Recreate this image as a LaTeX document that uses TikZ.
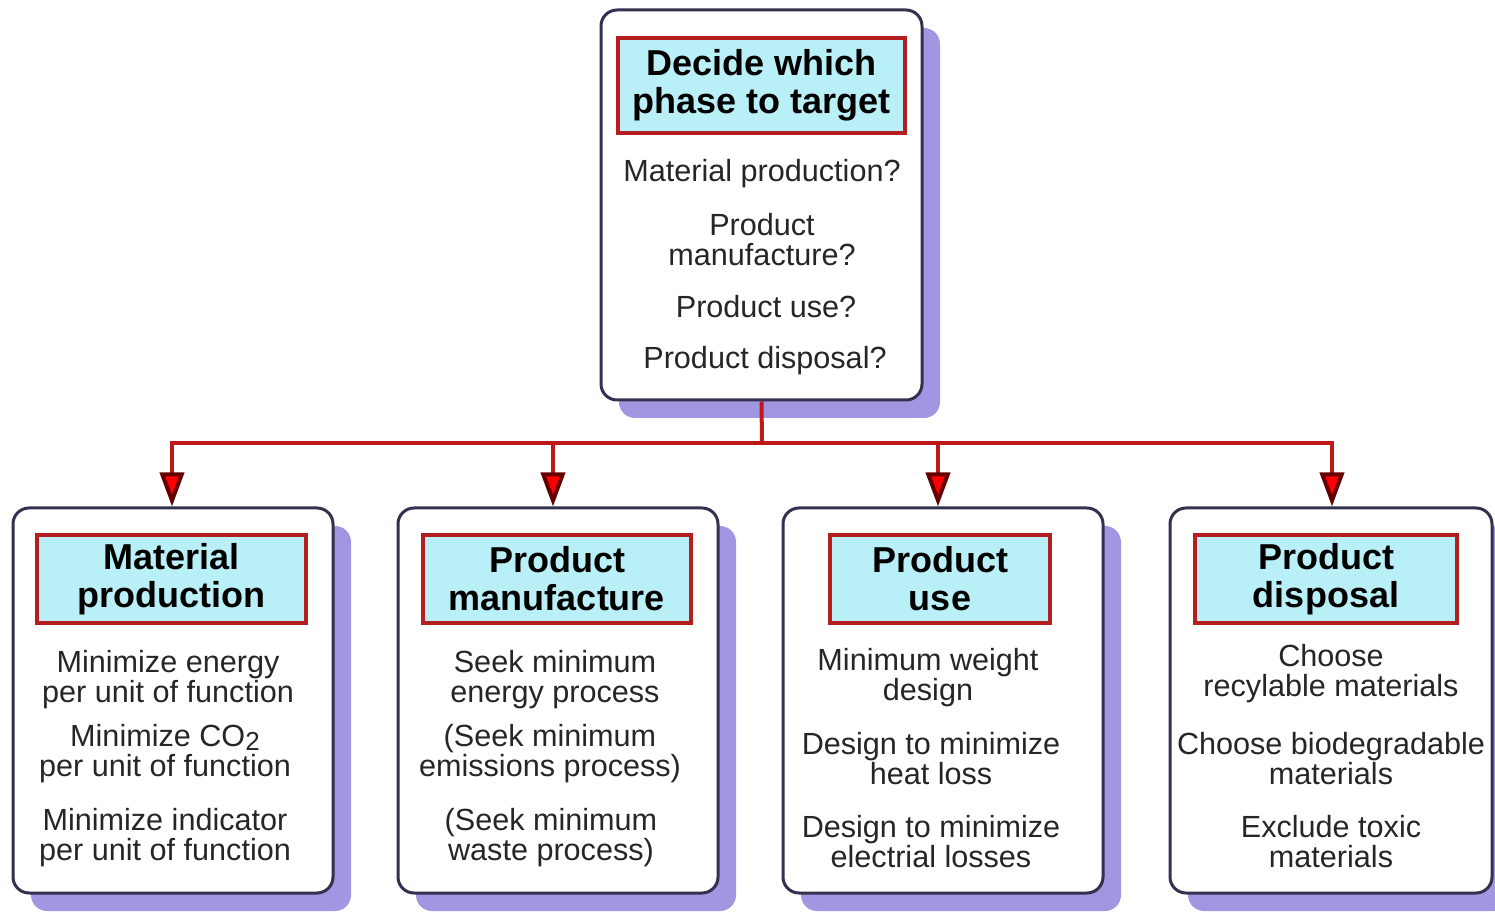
\documentclass[tikz,border=0pt]{standalone}
\usepackage{fontspec}
\setmainfont{Liberation Sans}
\usetikzlibrary{arrows.meta,shadows}
\definecolor{shade}{RGB}{160,150,225}
\definecolor{titlefill}{RGB}{185,240,248}
\definecolor{titleedge}{RGB}{180,30,30}
\definecolor{boxedge}{RGB}{50,50,80}
\definecolor{linkc}{RGB}{190,25,25}
\begin{document}
\begin{tikzpicture}[x=0.5pt,y=-0.5pt,
  outer/.style={draw=boxedge,line width=1.5pt,fill=white,rounded corners=8pt,
    drop shadow={shadow xshift=9pt,shadow yshift=-9pt,fill=shade,opacity=1}},
  ttl/.style={draw=titleedge,line width=1.6pt,fill=titlefill,
    font=\fontsize{18}{19}\selectfont\bfseries,align=center,inner sep=0pt},
  body/.style={font=\fontsize{15.3}{15}\selectfont,align=center,inner sep=0pt,text=black!85},
  linkl/.style={draw=linkc,line width=2pt},
  arr/.style={linkl,-{Triangle[width=12pt,length=17pt,color=black!60!red,fill=red]}}
]
\useasboundingbox (0,0) rectangle (1495,914);

% top box
\node[outer,minimum width=160.5pt,minimum height=195pt] (top) at (761.5,205) {};
\node[ttl,minimum width=143.5pt,minimum height=47.5pt] (toptitle) at (761.5,85.5) {Decide which\\phase to target};
\node[body] (t1) at (762,174) {Material production?};
\node[body] (t2) at (762,240) {Product\\manufacture?};
\node[body] (t3) at (766,307) {Product use?};
\node[body] (t4) at (765,361) {Product disposal?};

% bottom boxes
\node[outer,minimum width=160pt,minimum height=192.5pt] (b1) at (173,700.5) {};
\node[outer,minimum width=160pt,minimum height=192.5pt] (b2) at (558,700.5) {};
\node[outer,minimum width=160pt,minimum height=192.5pt] (b3) at (943,700.5) {};
\node[outer,minimum width=161pt,minimum height=192.5pt] (b4) at (1331,700.5) {};

\node[ttl,minimum width=134.5pt,minimum height=44pt] (h1) at (171.5,579) {Material\\production};
\node[ttl,minimum width=134pt,minimum height=44pt] (h2) at (557,579) {Product\\manufacture};
\node[ttl,minimum width=110pt,minimum height=44pt] (h3) at (940,579) {Product\\use};
\node[ttl,minimum width=131pt,minimum height=44pt] (h4) at (1326,579) {Product\\disposal};

\node[body] (a1) at (168,680) {Minimize energy\\per unit of function};
\node[body] (a2) at (165,754) {Minimize CO\smash{\raisebox{-0.2ex}{\fontsize{13}{13}\selectfont 2}}\\per unit of function};
\node[body] (a3) at (165,838) {Minimize indicator\\per unit of function};

\node[body] (c1) at (555,680) {Seek minimum\\energy process};
\node[body] (c2) at (550,754) {(Seek minimum\\emissions process)};
\node[body] (c3) at (551,838) {(Seek minimum\\waste process)};

\node[body] (d1) at (928,678) {Minimum weight\\design};
\node[body] (d2) at (931,759) {Design to minimize\\heat loss};
\node[body] (d3) at (931,842) {Design to minimize\\electrial losses};

\node[body] (e1) at (1331,674) {Choose\\recylable materials};
\node[body] (e2) at (1331,759) {Choose biodegradable\\materials};
\node[body] (e3) at (1331,842) {Exclude toxic\\materials};

% connectors
\coordinate (j) at (762,443);
\draw[linkl] (top.south) -- (j);
\draw[arr] (j) -| ([xshift=-0.5pt]b1.north);
\draw[arr] (j) -| ([xshift=-2.5pt]b2.north);
\draw[arr] (j) -| ([xshift=-2.5pt]b3.north);
\draw[arr] (j) -| ([xshift=0.5pt]b4.north);
\end{tikzpicture}
\end{document}
